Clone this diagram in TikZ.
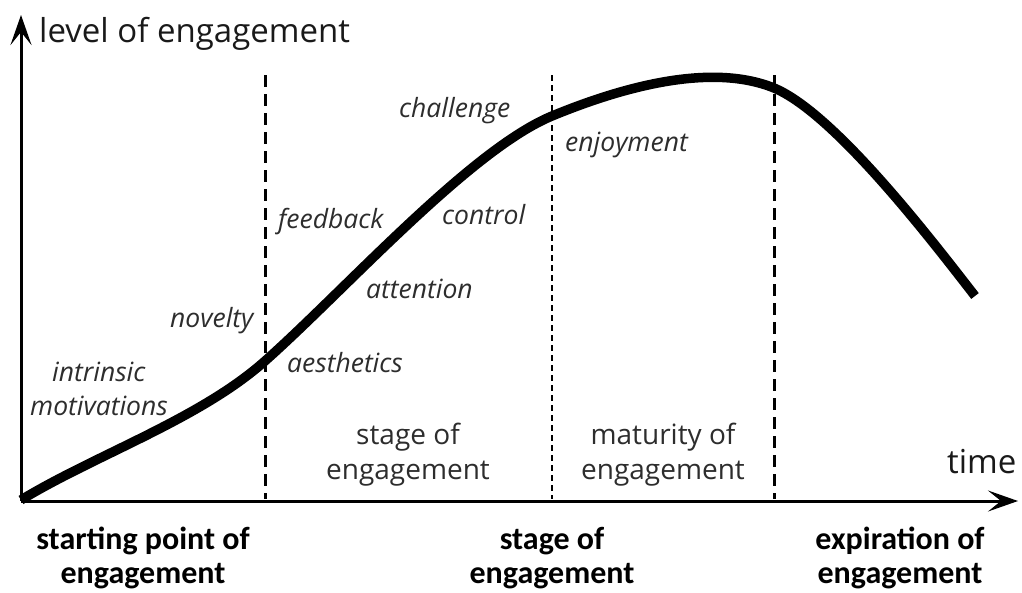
\documentclass[tikz,border=0pt]{standalone}
\usepackage{fontspec}
\setmainfont{Open Sans}
\newfontfamily\calfont{Carlito}
\usetikzlibrary{arrows.meta,positioning}
\definecolor{txt}{RGB}{45,45,45}
\tikzset{
  axis/.style={-{Stealth[length=30pt,width=21pt,inset=13pt]}, line width=3pt},
  curve/.style={line width=9.5pt},
  bound/.style={dash pattern=on 12pt off 7pt, line width=3pt},
  midbound/.style={dash pattern=on 6pt off 4pt, line width=1.4pt},
  factor/.style={font=\fontsize{26.5}{31}\selectfont\itshape, text=txt, inner sep=0pt, anchor=base west},
  stage/.style={font=\fontsize{28}{34}\selectfont, text=txt, inner sep=0pt, anchor=base},
  phase/.style={font=\calfont\bfseries\fontsize{32}{38}\selectfont, inner sep=0pt, anchor=base},
  axlabel/.style={font=\fontsize{33}{39}\selectfont, text=black!90, inner sep=0pt, anchor=base west}
}

\begin{document}
\begin{tikzpicture}[x=1pt, y=-1pt]
    \useasboundingbox (0,0) rectangle (1022,592);

    % axes
    \coordinate (origin) at (21,501);
    \coordinate (ytip) at (21,15);
    \coordinate (xtip) at (1018,501);
    \draw [axis] (origin) -- (ytip);
    \draw [axis] (origin) -- (xtip);
    \node [axlabel] (ylabel) at (39,42) {level of engagement};
    \node [axlabel] (xlabel) at (947,473) {time};

    % stage boundaries
    \coordinate (b1top) at (265,75);  \coordinate (b1bot) at (265,499);
    \coordinate (b2top) at (552,75);  \coordinate (b2bot) at (552,499);
    \coordinate (b3top) at (774,75);  \coordinate (b3bot) at (774,499);
    \draw [bound] (b1top) -- (b1bot);
    \draw [midbound] (b2top) -- (b2bot);
    \draw [bound] (b3top) -- (b3bot);

    % engagement curve
    \coordinate (c0) at (21,500);
    \coordinate (c1) at (265,361);
    \coordinate (c2) at (552,116);
    \coordinate (c3) at (774,88);
    \coordinate (c4) at (975,296);
    \draw [curve] (c0) .. controls (95,455) and (200,419) .. (c1)
                       .. controls (345,290) and (470,150) .. (c2)
                       .. controls (620,88) and (710,62) .. (c3)
                       .. controls (834,113) and (930,238) .. (c4);

    % factors
    \node [factor] (intr) at (52,381) {intrinsic};
    \node [factor] (motiv) at (30,415) {motivations};
    \node [factor] (novel) at (170,327) {novelty};
    \node [factor] (aesth) at (287,372) {aesthetics};
    \node [factor] (atten) at (366,298) {attention};
    \node [factor] (feedb) at (278,228) {feedback};
    \node [factor] (contr) at (442,224) {control};
    \node [factor] (chall) at (399,117) {challenge};
    \node [factor] (enjoy) at (565,151) {enjoyment};

    % stages inside the plot
    \node [stage] (stage1) at (408,444) {stage of};
    \node [stage] (stage2) at (408,479) {engagement};
    \node [stage] (mature1) at (663,444) {maturity of};
    \node [stage] (mature2) at (663,479) {engagement};

    % phases below the axis
    \node [phase] (start1) at (143,549) {starting point of};
    \node [phase] (start2) at (143,583) {engagement};
    \node [phase] (mid1) at (552,549) {stage of};
    \node [phase] (mid2) at (552,583) {engagement};
    \node [phase] (expir1) at (900,549) {expiration of};
    \node [phase] (expir2) at (900,583) {engagement};
\end{tikzpicture}
\end{document}
